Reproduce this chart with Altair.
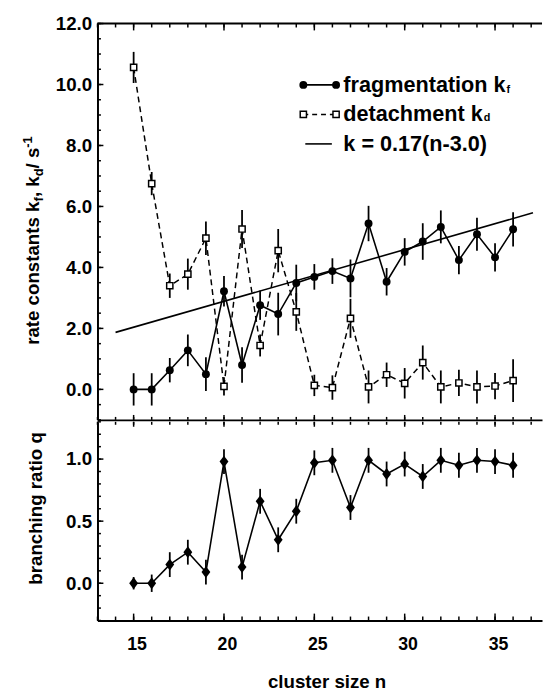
import altair as alt
import pandas as pd

FONT = "Liberation Sans"

# ---- data ----
n = [15, 16, 17, 18, 19, 20, 21, 22, 23, 24, 25, 26, 27, 28, 29, 30, 31, 32, 33, 34, 35, 36]
kf = [0.00, 0.00, 0.63, 1.28, 0.50, 3.22, 0.80, 2.76, 2.47, 3.49, 3.69, 3.88, 3.64, 5.44, 3.53, 4.51, 4.85, 5.33, 4.24, 5.09, 4.33, 5.25]
kf_err = [0.53, 0.53, 0.40, 0.52, 0.55, 0.50, 0.58, 0.48, 0.70, 0.60, 0.42, 0.42, 0.62, 0.58, 0.45, 0.45, 0.60, 0.54, 0.46, 0.54, 0.46, 0.56]
kd = [10.56, 6.75, 3.40, 3.78, 4.96, 0.10, 5.26, 1.44, 4.55, 2.54, 0.13, 0.06, 2.33, 0.08, 0.48, 0.20, 0.88, 0.08, 0.21, 0.08, 0.11, 0.29]
kd_err = [0.51, 0.38, 0.40, 0.51, 0.55, 0.30, 0.62, 0.36, 0.71, 0.62, 0.35, 0.40, 0.64, 0.54, 0.40, 0.50, 0.56, 0.54, 0.43, 0.54, 0.43, 0.70]
q = [0.00, 0.00, 0.15, 0.25, 0.09, 0.98, 0.13, 0.66, 0.35, 0.58, 0.97, 0.99, 0.61, 0.99, 0.88, 0.96, 0.86, 0.99, 0.95, 0.99, 0.98, 0.95]
q_err = [0.05, 0.07, 0.10, 0.10, 0.10, 0.10, 0.10, 0.10, 0.10, 0.10, 0.10, 0.10, 0.10, 0.10, 0.10, 0.10, 0.10, 0.10, 0.10, 0.10, 0.10, 0.10]
fit_n = [14.0, 37.1]
fit_k = [1.87, 5.79]

# axis tick values
x_major = [15, 20, 25, 30, 35]
x_minor = [13, 14, 15, 16, 17, 18, 19, 20, 21, 22, 23, 24, 25, 26, 27, 28, 29, 30, 31, 32, 33, 34, 35, 36, 37]
y1_major = [0, 2, 4, 6, 8, 10, 12]
y1_minor = [-1.0, -0.5, 0.0, 0.5, 1.0, 1.5, 2.0, 2.5, 3.0, 3.5, 4.0, 4.5, 5.0, 5.5, 6.0, 6.5, 7.0, 7.5, 8.0, 8.5, 9.0, 9.5, 10.0, 10.5, 11.0, 11.5, 12.0]
y2_major = [0.0, 0.5, 1.0]
y2_minor = [-0.3, -0.2, -0.1, 0.0, 0.1, 0.2, 0.3, 0.4, 0.5, 0.6, 0.7, 0.8, 0.9, 1.0, 1.1, 1.2, 1.3]

W = 452
H1 = 403
H2 = 202

df = pd.DataFrame({
    "n": n,
    "kf": kf, "kf_lo": [a - b for a, b in zip(kf, kf_err)], "kf_hi": [a + b for a, b in zip(kf, kf_err)],
    "kd": kd, "kd_lo": [a - b for a, b in zip(kd, kd_err)], "kd_hi": [a + b for a, b in zip(kd, kd_err)],
    "q": q, "q_lo": [a - b for a, b in zip(q, q_err)], "q_hi": [a + b for a, b in zip(q, q_err)],
})
fit_df = pd.DataFrame({"n": fit_n, "k": fit_k})
one = pd.DataFrame({"a": [0]})

xs = alt.Scale(domain=[13, 37.6], nice=False, zero=False)
y1s = alt.Scale(domain=[-1, 12], nice=False, zero=False)
y2s = alt.Scale(domain=[-0.3, 1.3], nice=False, zero=False)

ax_x_top = alt.Axis(labels=False, ticks=False, tickSize=0, title=None, grid=False)
ax_y_top = alt.Axis(values=y1_major, format=".1f", title=None, labelFontSize=19, labelPadding=6,
                    ticks=False, tickSize=0, grid=False, minExtent=50, maxExtent=50)
ax_x_bot = alt.Axis(values=x_major, format="d", labelFontSize=18, labelPadding=15, labelOffset=3,
                    ticks=False, tickSize=0, grid=False, title="cluster size n", titleFontSize=19,
                    titleX=233, titleY=68, titleBaseline="alphabetic", titleAlign="center")
ax_y_bot = alt.Axis(values=y2_major, format=".1f", title=None, labelFontSize=19, labelPadding=6,
                    ticks=False, tickSize=0, grid=False, minExtent=50, maxExtent=50)


def txt(s, x, y, size, angle=0, align="left", baseline="alphabetic"):
    return alt.Chart(one).mark_text(text=s, x=x, y=y, fontSize=size, font=FONT, fontWeight="bold",
                                    align=align, baseline=baseline, angle=angle, color="black")


def xticks(vals, yaxis, h, top_len, bot_len):
    d = pd.DataFrame({"v": vals})
    layers = []
    if top_len:
        layers.append(alt.Chart(d).mark_rule(color="black", strokeWidth=1.5).encode(
            x=alt.X("v:Q", scale=xs, axis=yaxis), y=alt.value(0), y2=alt.value(top_len)))
    if bot_len:
        layers.append(alt.Chart(d).mark_rule(color="black", strokeWidth=1.5).encode(
            x=alt.X("v:Q", scale=xs, axis=yaxis), y=alt.value(h), y2=alt.value(h - bot_len)))
    return layers


def yticks(vals, yscale, yaxis, length):
    d = pd.DataFrame({"v": vals})
    return alt.Chart(d).mark_rule(color="black", strokeWidth=1.5).encode(
        y=alt.Y("v:Q", scale=yscale, axis=yaxis), x=alt.value(0), x2=alt.value(length))


# ---------------- top panel ----------------
Xt = alt.X("n:Q", scale=xs, axis=ax_x_top)
base = alt.Chart(df)
err_f = base.mark_rule(color="black", strokeWidth=1.8).encode(
    x=Xt, y=alt.Y("kf_lo:Q", scale=y1s, axis=ax_y_top), y2="kf_hi:Q")
err_d = base.mark_rule(color="black", strokeWidth=1.8).encode(
    x=Xt, y=alt.Y("kd_lo:Q", scale=y1s, axis=ax_y_top), y2="kd_hi:Q")
line_f = base.mark_line(color="black", strokeWidth=1.6).encode(
    x=Xt, y=alt.Y("kf:Q", scale=y1s, axis=ax_y_top))
line_d = base.mark_line(color="black", strokeWidth=1.5, strokeDash=[6, 4]).encode(
    x=Xt, y=alt.Y("kd:Q", scale=y1s, axis=ax_y_top))
fit = alt.Chart(fit_df).mark_line(color="black", strokeWidth=1.6).encode(
    x=alt.X("n:Q", scale=xs, axis=ax_x_top), y=alt.Y("k:Q", scale=y1s, axis=ax_y_top))
pts_f = base.mark_point(shape="circle", filled=True, color="black", size=65, opacity=1).encode(
    x=Xt, y=alt.Y("kf:Q", scale=y1s, axis=ax_y_top))
pts_d = base.mark_point(shape="square", filled=True, fill="white", stroke="black", strokeWidth=1.5,
                        size=40, opacity=1).encode(x=Xt, y=alt.Y("kd:Q", scale=y1s, axis=ax_y_top))

top_border = alt.Chart(one).mark_rule(color="black", strokeWidth=2).encode(
    x=alt.value(0), x2=alt.value(W), y=alt.value(0))

# legend
LX1, LX2, TX = 209.3, 242.6, 250
R1, R2, R3 = 62.4, 92.4, 122.4
leg = [
    alt.Chart(one).mark_rule(color="black", strokeWidth=1.6).encode(x=alt.value(LX1), x2=alt.value(LX2), y=alt.value(R1)),
    alt.Chart(one).mark_point(shape="circle", filled=True, color="black", size=65, opacity=1).encode(x=alt.value(LX1), y=alt.value(R1)),
    alt.Chart(one).mark_point(shape="circle", filled=True, color="black", size=65, opacity=1).encode(x=alt.value(LX2), y=alt.value(R1)),
    alt.Chart(one).mark_rule(color="black", strokeWidth=1.5, strokeDash=[5, 4]).encode(x=alt.value(LX1), x2=alt.value(LX2), y=alt.value(R2)),
    alt.Chart(one).mark_point(shape="square", filled=True, fill="white", stroke="black", strokeWidth=1.5, size=40, opacity=1).encode(x=alt.value(LX1), y=alt.value(R2)),
    alt.Chart(one).mark_point(shape="square", filled=True, fill="white", stroke="black", strokeWidth=1.5, size=40, opacity=1).encode(x=alt.value(LX2), y=alt.value(R2)),
    alt.Chart(one).mark_rule(color="black", strokeWidth=1.6).encode(x=alt.value(211.3), x2=alt.value(238.3), y=alt.value(R3)),
    txt("fragmentation k", TX, R1, 22, baseline="middle"),
    txt("f", 416.0, R1 + 5, 11, baseline="middle"),
    txt("detachment k", TX, R2, 22, baseline="middle"),
    txt("d", 392.8, R2 + 4, 11, baseline="middle"),
    txt("k = 0.17(n-3.0)", TX, R3, 22, baseline="middle"),
]

# y title with sub/superscripts
ytitle = [
    txt("rate constants k", -59.4, 326.7, 19, angle=270),
    txt("f", -55.4, 181.0, 13, angle=270),
    txt(", k", -59.4, 176.5, 19, angle=270),
    txt("d", -55.4, 155.4, 13, angle=270),
    txt("/ s", -59.4, 147.3, 19, angle=270),
    txt("-1", -67.0, 126.2, 13, angle=270),
]

top_ticks = (xticks(x_minor, ax_x_top, H1, 4, 3) + xticks(x_major, ax_x_top, H1, 7, 5)
             + [yticks(y1_minor, y1s, ax_y_top, 3.5), yticks(y1_major, y1s, ax_y_top, 6)])

top = alt.layer(err_f, err_d, line_f, line_d, fit, pts_f, pts_d, top_border, *top_ticks, *leg, *ytitle
                ).properties(width=W, height=H1)

# ---------------- bottom panel ----------------
Xb = alt.X("n:Q", scale=xs, axis=ax_x_bot)
err_q = base.mark_rule(color="black", strokeWidth=1.8).encode(
    x=Xb, y=alt.Y("q_lo:Q", scale=y2s, axis=ax_y_bot), y2="q_hi:Q")
line_q = base.mark_line(color="black", strokeWidth=1.6).encode(
    x=Xb, y=alt.Y("q:Q", scale=y2s, axis=ax_y_bot))
pts_q = base.mark_point(shape="M0,-1L0.75,0L0,1L-0.75,0Z", filled=True, color="black", size=144, opacity=1).encode(
    x=Xb, y=alt.Y("q:Q", scale=y2s, axis=ax_y_bot))

bot_ticks = (xticks(x_minor, ax_x_bot, H2, 3, 4) + xticks(x_major, ax_x_bot, H2, 5, 7)
             + [yticks(y2_minor, y2s, ax_y_bot, 3.5), yticks(y2_major, y2s, ax_y_bot, 6)])

bottom = alt.layer(err_q, line_q, pts_q, *bot_ticks,
                   txt("branching ratio q", -56.7, 88, 19, angle=270, align="center")
                   ).properties(width=W, height=H2)

chart = alt.vconcat(top, bottom, spacing=0).properties(
    padding={"left": 14, "top": 1, "right": 0, "bottom": 0},
    background="white",
).configure_view(stroke=None).configure_axis(
    labelFont=FONT, labelFontWeight="bold", labelColor="black",
    titleFont=FONT, titleFontWeight="bold", titleColor="black",
    domainColor="black", domainWidth=2, grid=False,
)

chart.save("out.html", embed_options={"renderer": "svg", "actions": False})
